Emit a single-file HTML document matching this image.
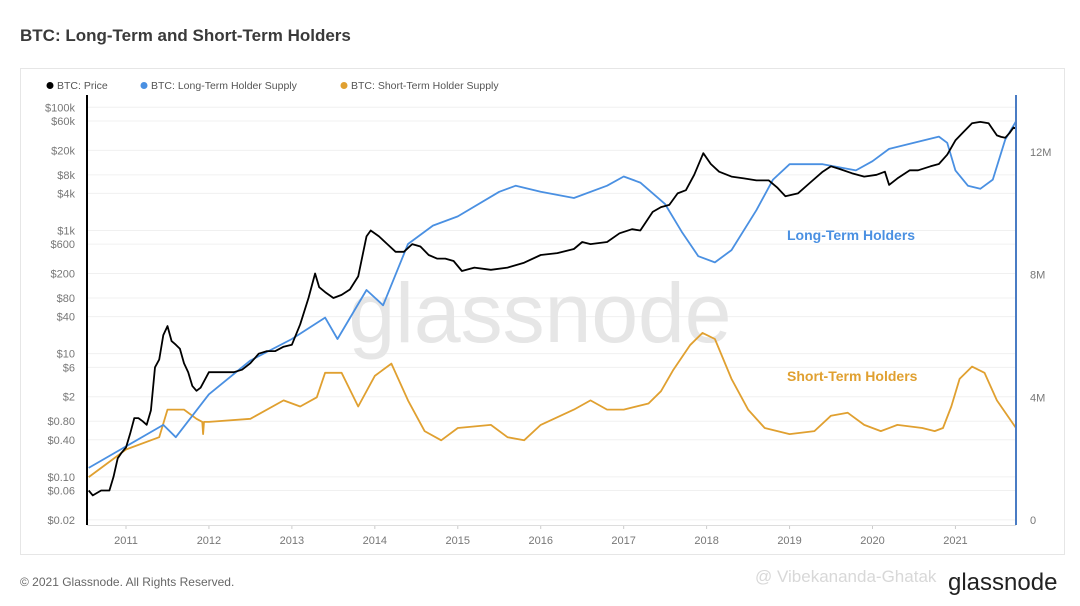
<!DOCTYPE html>
<html><head><meta charset="utf-8"><style>
body{margin:0;background:#fff;width:1080px;height:601px;overflow:hidden;font-family:"Liberation Sans",sans-serif}
</style></head><body>
<svg width="1080" height="601" xmlns="http://www.w3.org/2000/svg">
<text x="20" y="41" font-size="17" font-weight="bold" fill="#3a3a3a">BTC: Long-Term and Short-Term Holders</text>
<rect x="20.5" y="68.5" width="1044" height="486" fill="#fff" stroke="#e6e6e6"/>
<g font-size="10.5" fill="#555">
<g><circle cx="50" cy="85.5" r="3.5" fill="#000"/><text x="57" y="89">BTC: Price</text></g>
<g><circle cx="144" cy="85.5" r="3.5" fill="#4a90e2"/><text x="151" y="89">BTC: Long-Term Holder Supply</text></g>
<g><circle cx="344" cy="85.5" r="3.5" fill="#e0a030"/><text x="351" y="89">BTC: Short-Term Holder Supply</text></g>
</g>
<g id="grid"></g>
<text x="540" y="342" font-size="84" fill="#e6e6e6" text-anchor="middle">glassnode</text>
<g id="series"></g>
<g id="axes"></g>
<text x="787" y="240" font-size="14" font-weight="bold" fill="#4a90e2">Long-Term Holders</text>
<text x="787" y="381" font-size="14" font-weight="bold" fill="#e0a030">Short-Term Holders</text>
<text x="20" y="586" font-size="12" fill="#666">© 2021 Glassnode. All Rights Reserved.</text>
<text x="755" y="582" font-size="17" fill="#d8d8d8">@ Vibekananda-Ghatak</text>
<text x="948" y="590" font-size="24" fill="#222">glassnode</text>
</svg>
<script>
const priceT=[2010.55,2010.6,2010.7,2010.8,2010.85,2010.9,2010.95,2011.0,2011.05,2011.1,2011.15,2011.2,2011.25,2011.3,2011.35,2011.4,2011.45,2011.5,2011.55,2011.6,2011.65,2011.7,2011.75,2011.8,2011.85,2011.9,2012.0,2012.1,2012.2,2012.3,2012.4,2012.5,2012.6,2012.7,2012.8,2012.9,2013.0,2013.1,2013.2,2013.28,2013.33,2013.4,2013.5,2013.6,2013.7,2013.8,2013.9,2013.95,2014.05,2014.15,2014.25,2014.35,2014.45,2014.55,2014.65,2014.75,2014.85,2014.95,2015.05,2015.2,2015.4,2015.6,2015.8,2016.0,2016.2,2016.4,2016.5,2016.6,2016.8,2016.95,2017.1,2017.2,2017.35,2017.45,2017.55,2017.65,2017.75,2017.85,2017.96,2018.05,2018.15,2018.3,2018.45,2018.6,2018.75,2018.85,2018.95,2019.1,2019.25,2019.4,2019.5,2019.6,2019.75,2019.9,2020.05,2020.15,2020.2,2020.3,2020.45,2020.55,2020.7,2020.8,2020.9,2021.0,2021.1,2021.2,2021.3,2021.4,2021.5,2021.55,2021.6,2021.65,2021.7,2021.73];
const priceV=[0.06,0.05,0.06,0.06,0.1,0.2,0.25,0.3,0.5,0.9,0.9,0.8,0.7,1.2,6,8,20,28,16,14,12,7,5,3,2.5,2.8,5,5,5,5,5.5,7,10,11,11,13,14,30,80,200,120,100,80,90,110,180,800,1000,800,600,450,450,600,550,400,350,350,320,220,250,230,250,300,400,430,500,650,600,650,900,1050,1000,2000,2400,2600,4000,4500,8000,18000,12000,9000,7500,7000,6500,6500,5000,3600,4000,6000,9000,11000,10000,8500,7500,8000,9000,5500,7000,9500,9500,11000,12000,17000,29000,40000,55000,58000,55000,35000,33000,32000,38000,47000,45000];
const lthT=[2010.55,2011.0,2011.45,2011.6,2012.0,2012.5,2013.0,2013.4,2013.55,2013.9,2014.1,2014.4,2014.7,2015.0,2015.5,2015.7,2016.0,2016.4,2016.8,2017.0,2017.2,2017.5,2017.7,2017.9,2018.1,2018.3,2018.6,2018.8,2019.0,2019.4,2019.8,2020.0,2020.2,2020.5,2020.8,2020.9,2021.0,2021.15,2021.3,2021.45,2021.6,2021.73];
const lthV=[1.7,2.4,3.1,2.7,4.1,5.2,5.9,6.6,5.9,7.5,7.0,9.0,9.6,9.9,10.7,10.9,10.7,10.5,10.9,11.2,11.0,10.3,9.4,8.6,8.4,8.8,10.1,11.1,11.6,11.6,11.4,11.7,12.1,12.3,12.5,12.3,11.4,10.9,10.8,11.1,12.4,13.0];
const sthT=[2010.55,2011.0,2011.4,2011.5,2011.7,2011.85,2011.92,2011.93,2011.94,2012.0,2012.5,2012.9,2013.1,2013.3,2013.4,2013.6,2013.8,2014.0,2014.2,2014.4,2014.6,2014.8,2015.0,2015.4,2015.6,2015.8,2016.0,2016.4,2016.6,2016.8,2017.0,2017.3,2017.45,2017.6,2017.8,2017.95,2018.1,2018.3,2018.5,2018.7,2019.0,2019.3,2019.5,2019.7,2019.9,2020.1,2020.3,2020.6,2020.75,2020.85,2020.95,2021.05,2021.2,2021.35,2021.5,2021.73];
const sthV=[1.4,2.3,2.7,3.6,3.6,3.3,3.2,2.8,3.2,3.2,3.3,3.9,3.7,4.0,4.8,4.8,3.7,4.7,5.1,3.9,2.9,2.6,3.0,3.1,2.7,2.6,3.1,3.6,3.9,3.6,3.6,3.8,4.2,4.9,5.7,6.1,5.9,4.6,3.6,3.0,2.8,2.9,3.4,3.5,3.1,2.9,3.1,3.0,2.9,3.0,3.7,4.6,5.0,4.8,3.9,3.0];
const priceTicks=[0.02,0.06,0.10,0.40,0.80,2,6,10,40,80,200,600,1000,4000,8000,20000,60000,100000];
const priceLabels=["$0.02","$0.06","$0.10","$0.40","$0.80","$2","$6","$10","$40","$80","$200","$600","$1k","$4k","$8k","$20k","$60k","$100k"];
const supplyTicks=[0,4,8,12];
const supplyLabels=["0","4M","8M","12M"];
const yearTicks=[2011,2012,2013,2014,2015,2016,2017,2018,2019,2020,2021];

const X0=87,X1=1016,T0=2010.53,T1=2021.73,YB=520,TOP=95;
const xs=t=>X0+(t-T0)/(T1-T0)*(X1-X0);
const yp=v=>YB-(Math.log10(v)+1.7)*61.6;
const ys=v=>YB-v*30.67;
const NS="http://www.w3.org/2000/svg";
function mk(tag,attrs,parent){const e=document.createElementNS(NS,tag);for(const k in attrs)e.setAttribute(k,attrs[k]);parent.appendChild(e);return e;}
const grid=document.getElementById('grid'),series=document.getElementById('series'),axes=document.getElementById('axes');
priceTicks.forEach((v,i)=>{
  const y=yp(v);
  const l=mk('line',{x1:X0,x2:X1,y1:y,y2:y,stroke:'#f0f0f0','stroke-width':1},grid);
  
  
  const t=mk('text',{x:75,y:y+4,'font-size':11,fill:'#777','text-anchor':'end'},axes);
  t.textContent=priceLabels[i];
  
  
});
supplyTicks.forEach((v,i)=>{
  const t=mk('text',{x:1030,y:ys(v)+4,'font-size':11,fill:'#777'},axes);
  t.textContent=supplyLabels[i];
  
  
});
yearTicks.forEach(yr=>{
  const x=xs(yr);
  const t=mk('text',{x:x,y:544,'font-size':11,fill:'#777','text-anchor':'middle'},axes);
  t.textContent=yr;
  
  
  const k=mk('line',{x1:x,x2:x,y1:525,y2:529,stroke:'#ccc'},axes);
  
  
});
const bx=mk('line',{x1:X0,x2:X1,y1:525.5,y2:525.5,stroke:'#ddd'},axes);


const la=mk('line',{x1:X0,x2:X0,y1:TOP,y2:525,stroke:'#000','stroke-width':2},axes);


const ra=mk('line',{x1:X1,x2:X1,y1:TOP,y2:525,stroke:'#4a7cc4','stroke-width':2},axes);


function path(T,V,fy,col,w,name){
  const d=T.map((t,i)=>(i?'L':'M')+xs(t).toFixed(1)+' '+fy(V[i]).toFixed(1)).join(' ');
  const p=mk('path',{d:d,fill:'none',stroke:col,'stroke-width':w,'stroke-linejoin':'round'},series);
  
  
}
path(sthT,sthV,ys,'#e0a030',1.8,'sth-supply-line');
path(lthT,lthV,ys,'#4a90e2',1.8,'lth-supply-line');
path(priceT,priceV,yp,'#000',1.8,'price-line');
</script>
</body></html>
